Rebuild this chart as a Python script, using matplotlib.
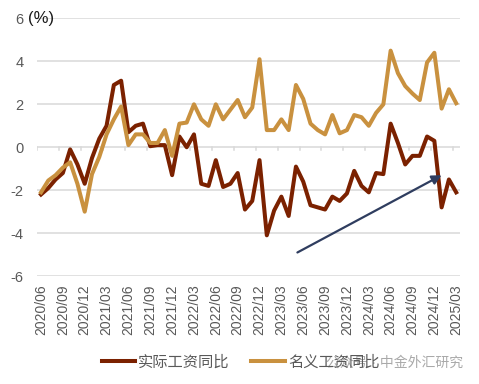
import matplotlib.pyplot as plt
import numpy as np

plt.rcParams['font.family'] = ['Liberation Sans', 'Noto Sans CJK SC', 'DejaVu Sans']

# monthly, 2020/06 .. 2025/03
months = [f'{y}/{m:02d}' for y in range(2020, 2026) for m in range(1, 13)]
months = months[months.index('2020/06'):months.index('2025/03') + 1]

real_wage = [-2.2, -1.9, -1.5, -1.2, -0.1, -0.8, -1.7, -0.5, 0.4, 1.0,
             2.9, 3.1, 0.7, 1.0, 1.1, 0.05, 0.1, 0.1, -1.3, 0.5,
             0.0, 0.6, -1.7, -1.8, -0.6, -1.85, -1.7, -1.2, -2.9, -2.5,
             -0.6, -4.1, -2.95, -2.3, -3.2, -0.9, -1.6, -2.7, -2.8, -2.9,
             -2.3, -2.5, -2.15, -1.1, -1.8, -2.1, -1.2, -1.25, 1.1, 0.2,
             -0.8, -0.4, -0.4, 0.5, 0.3, -2.8, -1.5, -2.1]
nominal_wage = [-2.1, -1.55, -1.3, -0.95, -0.7, -1.7, -3.0, -1.25, -0.45, 0.6,
                1.3, 1.9, 0.1, 0.6, 0.6, 0.2, 0.2, 0.8, -0.4, 1.1,
                1.15, 2.0, 1.3, 1.0, 2.0, 1.3, 1.75, 2.2, 1.4, 1.85,
                4.1, 0.8, 0.8, 1.3, 0.8, 2.9, 2.25, 1.1, 0.8, 0.6,
                1.5, 0.65, 0.8, 1.5, 1.4, 1.0, 1.6, 2.0, 4.5, 3.45,
                2.85, 2.5, 2.2, 3.95, 4.4, 1.8, 2.7, 2.05]

# trend arrow (month index, value)
arrow_start = (35.2, -4.9)
arrow_end = (55.0, -1.3)

c_real = '#7B2100'
c_nom = '#C9913F'
c_grid = '#D9D9D9'
c_text = '#595959'

fig = plt.figure(figsize=(4.79, 3.84), dpi=100)
ax = fig.add_axes([0.078, 0.281, 0.882, 0.671])

x = np.arange(len(months))
ax.plot(x, real_wage, color=c_real, lw=2.9, label='实际工资同比', zorder=3)
ax.plot(x, nominal_wage, color=c_nom, lw=2.9, label='名义工资同比', zorder=4)

ax.annotate('', xy=arrow_end, xytext=arrow_start,
            arrowprops=dict(arrowstyle='-|>', color='#2F3D5F', lw=1.6,
                            mutation_scale=14, shrinkA=0, shrinkB=0), zorder=5)

ax.set_xlim(-0.5, len(months) - 0.5)
ax.set_ylim(-6, 6)
ax.set_yticks(range(-6, 7, 2))
ax.set_yticklabels(['-6', '-4', '-2', '0', '2', '4', '6'])
ax.grid(axis='y', color=c_grid, lw=1.1)
ax.set_axisbelow(True)
for s in ax.spines.values():
    s.set_visible(False)
ax.tick_params(axis='y', length=0, labelsize=10.5, labelcolor=c_text, pad=10)

# category labels every 3 months, tick marks between categories on the 0 line
ax.set_xticks(x[::3])
ax.set_xticklabels(months[::3], rotation=90, fontsize=10, color=c_text)
ax.tick_params(axis='x', length=0, pad=6)
for b in np.arange(-0.5, len(months), 3):
    ax.plot([b, b], [0, -0.15], color=c_grid, lw=1.1, zorder=1)

fig.text(0.058, 0.952, '(%)', fontsize=12, color='#1A1A1A', va='center', ha='left')

fig.text(0.68, 0.055, '公众号 · 中金外汇研究', fontsize=10, color='#9A9A9A',
         alpha=0.85, ha='left', va='center')

fig.legend(loc='center', bbox_to_anchor=(0.502, 0.057), ncol=2, frameon=False,
           fontsize=11, handlelength=2.2, columnspacing=1.4, handletextpad=0.2,
           labelcolor=c_text)

fig.savefig('out.png', dpi=100)
